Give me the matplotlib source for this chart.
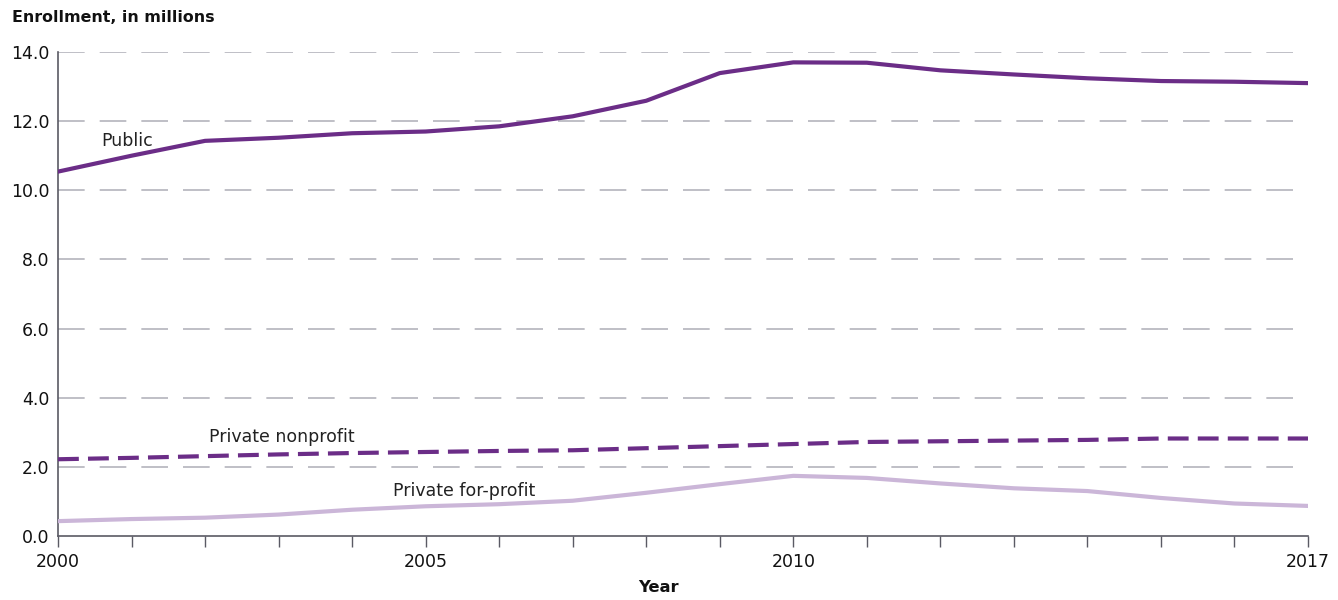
import numpy as np
import matplotlib
matplotlib.use('Agg')
import matplotlib.pyplot as plt

plt.rcParams['font.family'] = ['DejaVu Sans']

# 数据
years = list(range(2000, 2018))
public = [10.54, 11.00, 11.43, 11.52, 11.65, 11.70, 11.85, 12.14, 12.59, 13.39,
          13.70, 13.69, 13.47, 13.35, 13.24, 13.16, 13.14, 13.10]
nonprofit = [2.22, 2.26, 2.31, 2.36, 2.40, 2.43, 2.46, 2.48, 2.54, 2.60,
             2.66, 2.72, 2.74, 2.76, 2.78, 2.82, 2.82, 2.82]
forprofit = [0.43, 0.49, 0.53, 0.62, 0.76, 0.86, 0.92, 1.02, 1.25, 1.50,
             1.74, 1.68, 1.52, 1.38, 1.30, 1.10, 0.94, 0.87]
yticks = [0, 2, 4, 6, 8, 10, 12, 14]
xlabels_at = [2000, 2005, 2010, 2017]

DARK = '#6b2d87'
LIGHT = '#cbb6d8'
GRID = '#b4b4bc'
AXIS = '#5a5a64'

fig = plt.figure(figsize=(13.38, 6), dpi=100)
ax = fig.add_axes([58 / 1338, 1 - 536 / 600, 1250 / 1338, 484 / 600])

for y in yticks[1:]:
    ax.axhline(y, color=GRID, lw=1.2, dashes=(16, 9), zorder=0)

ax.plot(years, public, color=DARK, lw=3.0, solid_joinstyle='round', zorder=3)
ax.plot(years, nonprofit, color=DARK, lw=3.0, dashes=(5, 2.2), zorder=3)
ax.plot(years, forprofit, color=LIGHT, lw=3.0, solid_joinstyle='round', zorder=3)

# 线条标签
ax.text(2000.94, 11.43, 'Public', fontsize=12.5, ha='center', va='center', color='#222222')
ax.text(2003.05, 2.86, 'Private nonprofit', fontsize=12.5, ha='center', va='center', color='#222222')
ax.text(2005.52, 1.30, 'Private for-profit', fontsize=12.5, ha='center', va='center', color='#222222')

ax.set_xlim(2000, 2017)
ax.set_ylim(0, 14)
ax.set_yticks(yticks)
ax.set_yticklabels([f'{v:.1f}' for v in yticks], fontsize=12.5)
ax.tick_params(axis='y', length=0, pad=6, labelcolor='#111111')
ax.set_xticks(years)
ax.set_xticklabels([str(y) if y in xlabels_at else '' for y in years], fontsize=12.5)
ax.tick_params(axis='x', direction='out', length=8, width=1, color=AXIS, pad=4, labelcolor='#111111')

for s in ['top', 'right']:
    ax.spines[s].set_visible(False)
for s in ['left', 'bottom']:
    ax.spines[s].set_color(AXIS)
    ax.spines[s].set_linewidth(1.2)

fig.text(12 / 1338, 1 - 18 / 600, 'Enrollment, in millions', fontsize=11.4, fontweight='bold',
         ha='left', va='center', color='#111111')
fig.text(658 / 1338, 1 - 588 / 600, 'Year', fontsize=11.8, fontweight='bold',
         ha='center', va='center', color='#111111')

fig.savefig('out.png', dpi=100)
